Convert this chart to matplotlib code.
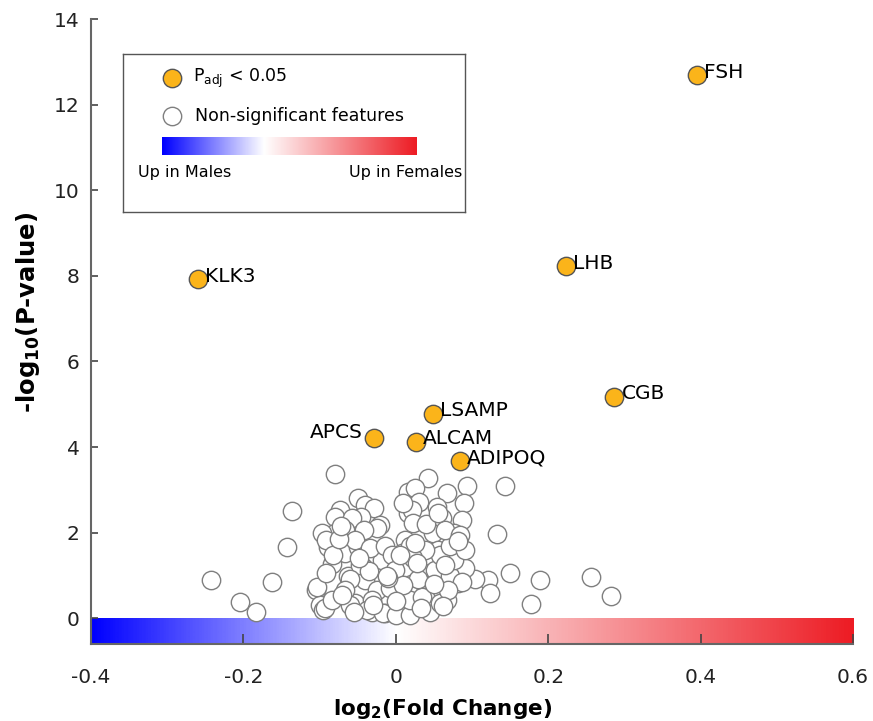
import numpy as np
import matplotlib.pyplot as plt
from matplotlib.colors import LinearSegmentedColormap, Normalize

plt.rcParams['font.family'] = ['DejaVu Sans']
plt.rcParams['mathtext.fontset'] = 'dejavusans'

# significant features
sig_genes = ['FSH', 'LHB', 'KLK3', 'CGB', 'LSAMP', 'ALCAM', 'APCS', 'ADIPOQ']
sig_fc = [0.395, 0.224, -0.259, 0.287, 0.049, 0.026, -0.029, 0.084]
sig_p = [12.69, 8.22, 7.92, 5.18, 4.78, 4.13, 4.22, 3.68]

# non-significant features
ns_fc = [-0.243, -0.205, -0.184, -0.163, -0.143, -0.136, -0.080, -0.105, -0.100, -0.095,
         0.143, 0.133, 0.150, 0.189, 0.178, 0.256, 0.283, 0.121, 0.123, 0.104,
         -0.050, -0.041, -0.028, -0.073, -0.080, -0.045, -0.021, -0.080, -0.063, -0.097,
         0.016, 0.016, 0.012, 0.042, 0.025, 0.067, 0.093, 0.031, 0.090, 0.021,
         0.054, 0.087, 0.022, 0.049, 0.077, 0.060, -0.067, -0.084, -0.043, -0.041,
         -0.063, -0.024, -0.054, -0.093, -0.104, -0.014, 0.008, -0.031, 0.003, 0.012,
         -0.018, 0.008, -0.050, -0.089, 0.073, 0.091, 0.045, 0.067, 0.021, 0.045,
         0.060, 0.081, 0.031, 0.055, 0.012, 0.038, -0.058, -0.066, -0.024, -0.042,
         -0.091, -0.054, -0.034, -0.014, -0.083, -0.047, -0.005, -0.060, -0.001, -0.067,
         -0.031, 0.003, -0.008, -0.092, -0.084, -0.060, -0.038, -0.017, 0.000, 0.018,
         0.038, 0.018, 0.035, 0.058, 0.029, 0.051, 0.071, 0.087, 0.068, 0.077,
         0.058, 0.038, 0.018, 0.071, 0.091, 0.064, 0.084, 0.022, 0.005, 0.009,
         -0.070, -0.075, -0.035, -0.010, 0.028, 0.050, 0.065, 0.082, 0.040, 0.010,
         -0.055, -0.030, 0.000, 0.033, 0.062, -0.012, 0.025, 0.055, -0.072, -0.048]
ns_p = [0.89, 0.37, 0.14, 0.84, 1.66, 2.50, 3.36, 0.65, 0.30, 0.20,
        3.10, 1.96, 1.05, 0.89, 0.33, 0.96, 0.51, 0.89, 0.58, 0.93,
        2.80, 2.64, 2.57, 2.52, 2.36, 2.36, 2.17, 2.00, 2.00, 2.00,
        2.94, 2.45, 1.82, 3.27, 3.04, 2.92, 3.10, 2.71, 2.69, 2.52,
        2.60, 2.29, 2.22, 2.00, 2.00, 2.34, 1.52, 1.28, 1.19, 0.89,
        1.00, 0.65, 0.35, 0.23, 0.72, 0.12, 0.19, 0.14, 0.65, 1.05,
        1.36, 1.52, 1.66, 1.66, 1.52, 1.17, 1.05, 0.42, 0.19, 0.14,
        1.12, 0.82, 1.52, 1.59, 1.19, 0.77, 2.34, 2.06, 2.10, 2.06,
        1.82, 1.82, 1.64, 1.70, 1.47, 1.24, 1.47, 0.93, 1.12, 0.65,
        0.42, 0.26, 0.70, 1.07, 0.42, 0.30, 0.19, 0.12, 0.07, 0.07,
        0.49, 0.42, 0.49, 0.35, 0.93, 1.12, 1.00, 0.84, 0.65, 1.36,
        1.47, 1.59, 1.70, 1.70, 1.59, 2.06, 1.94, 1.40, 1.47, 0.77,
        0.55, 1.85, 1.10, 0.95, 1.30, 0.80, 1.25, 1.80, 2.20, 2.70,
        0.15, 0.30, 0.40, 0.25, 0.28, 1.00, 1.75, 2.45, 2.15, 1.40]

fig = plt.figure(figsize=(8.73, 7.21), dpi=100)
ax = fig.add_axes([0.1042, 0.1068, 0.8729, 0.8668])

cmap = LinearSegmentedColormap.from_list(
    'mf', [(0, '#0000ff'), (0.4, '#ffffff'), (1, '#ed1c24')])
grad = np.linspace(-0.4, 0.6, 600).reshape(1, -1)
norm = Normalize(-0.4, 0.6)

ax.imshow(grad, extent=[-0.4, 0.6, -0.6, 0], aspect='auto', cmap=cmap,
          norm=norm, zorder=0)

ax.scatter(ns_fc, ns_p, s=175, facecolor='white', edgecolor='#7f7f7f',
           linewidth=1.0, zorder=2)
ax.scatter(sig_fc, sig_p, s=175, facecolor='#fbb41a', edgecolor='#555555',
           linewidth=1.0, zorder=3)

for g, x, y in zip(sig_genes, sig_fc, sig_p):
    if g == 'APCS':
        ax.annotate(g, (x, y), xytext=(-8, 4), textcoords='offset points',
                    ha='right', va='center', fontsize=14.5)
    else:
        ax.annotate(g, (x, y), xytext=(5, 2), textcoords='offset points',
                    ha='left', va='center', fontsize=14.5)

ax.set_xlim(-0.4, 0.6)
ax.set_ylim(-0.6, 14)
ax.set_xticks([-0.4, -0.2, 0, 0.2, 0.4, 0.6])
ax.set_xticklabels(['-0.4', '-0.2', '0', '0.2', '0.4', '0.6'])
ax.set_yticks(range(0, 15, 2))
ax.tick_params(direction='in', labelsize=14.5, labelcolor='#222222',
               color='#444444', width=1.2)
ax.tick_params(axis='x', length=7, pad=17)
ax.tick_params(axis='y', length=5, pad=8)
for s in ['top', 'right']:
    ax.spines[s].set_visible(False)
for s in ['left', 'bottom']:
    ax.spines[s].set_color('#666666')
    ax.spines[s].set_linewidth(1.5)

ax.set_xlabel(r'log$_{\mathbf{2}}$(Fold Change)', fontsize=15.5,
              fontweight='bold', labelpad=8)
ax.xaxis.set_label_coords(0.462, -0.085)
ax.set_ylabel(r'-log$_{\mathbf{10}}$(P-value)', fontsize=17.5,
              fontweight='bold')
ax.yaxis.set_label_coords(-0.064, 0.53)

# legend box
lg = fig.add_axes([0.141, 0.706, 0.392, 0.219])
lg.set_xlim(0, 1)
lg.set_ylim(0, 1)
lg.set_xticks([])
lg.set_yticks([])
for s in lg.spines.values():
    s.set_color('#555555')
    s.set_linewidth(1.0)
lg.scatter([0.143], [0.848], s=175, facecolor='#fbb41a', edgecolor='#555555',
           linewidth=1.0)
lg.scatter([0.143], [0.608], s=175, facecolor='white', edgecolor='#7f7f7f',
           linewidth=1.0)
lg.text(0.205, 0.848, r'P$_{\mathrm{adj}}$ < 0.05', fontsize=12.5, va='center')
lg.text(0.21, 0.608, 'Non-significant features', fontsize=12.5, va='center')
lg.text(0.181, 0.247, 'Up in Males', fontsize=11.5, ha='center', va='center')
lg.text(0.825, 0.247, 'Up in Females', fontsize=11.5, ha='center', va='center')

cb = fig.add_axes([0.1856, 0.785, 0.291, 0.025])
cb.imshow(grad, aspect='auto', cmap=cmap, norm=norm)
cb.axis('off')

fig.savefig('out.png', dpi=100)
